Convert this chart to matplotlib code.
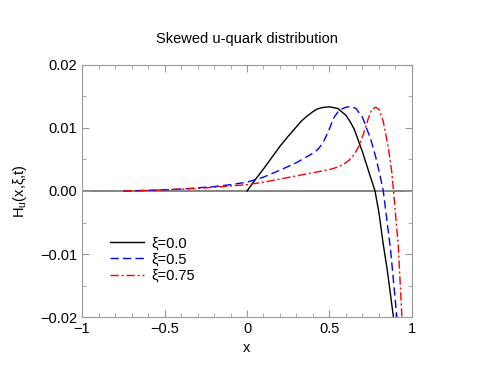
import matplotlib
matplotlib.use("Agg")
import matplotlib.pyplot as plt
from matplotlib.ticker import MultipleLocator

plt.rcParams['font.family'] = ['Liberation Sans', 'DejaVu Sans']

# xi = 0.0
x_a = [0.00, 0.05, 0.10, 0.15, 0.20, 0.25, 0.30, 0.33, 0.36, 0.40, 0.425, 0.45,
       0.475, 0.50, 0.55, 0.60, 0.625, 0.65, 0.70, 0.745, 0.776, 0.80, 0.826,
       0.85, 0.89]
h_a = [0.0, 0.0018, 0.0035, 0.0053, 0.0071, 0.0087, 0.0102, 0.0111, 0.0118,
       0.0126, 0.0130, 0.0132, 0.0133, 0.01335, 0.0131, 0.0120, 0.0110, 0.0098,
       0.0062, 0.0025, 0.0, -0.0035, -0.0085, -0.0125, -0.0205]

# xi = 0.5
x_b = [-0.75, -0.70, -0.60, -0.50, -0.40, -0.30, -0.20, -0.10, 0.00, 0.10, 0.20,
       0.30, 0.36, 0.40, 0.43, 0.46, 0.483, 0.50, 0.523, 0.55, 0.564, 0.60, 0.63,
       0.66, 0.70, 0.75, 0.78, 0.806, 0.826, 0.87, 0.91]
h_b = [0.0, 0.00003, 0.0001, 0.0002, 0.0003, 0.0005, 0.0007, 0.001, 0.0014, 0.0022,
       0.0033, 0.0045, 0.0054, 0.0060, 0.0066, 0.0076, 0.0089, 0.0099, 0.0115,
       0.0125, 0.0129, 0.0133, 0.0134, 0.0131, 0.0117, 0.0082, 0.0054, 0.0025,
       0.0, -0.0093, -0.0205]

# xi = 0.75
x_c = [-0.75, -0.60, -0.50, -0.40, -0.30, -0.20, -0.10, 0.00, 0.10, 0.20, 0.30,
       0.40, 0.50, 0.55, 0.584, 0.62, 0.65, 0.68, 0.705, 0.735, 0.756, 0.78,
       0.802, 0.826, 0.857, 0.877, 0.888, 0.917, 0.94]
h_c = [0.0, 0.0001, 0.0002, 0.0003, 0.0004, 0.0006, 0.0008, 0.0010, 0.0014, 0.0019,
       0.0024, 0.0029, 0.0034, 0.0038, 0.0042, 0.0049, 0.0058, 0.0072, 0.0090,
       0.0115, 0.0129, 0.0133, 0.0129, 0.0110, 0.0068, 0.0031, 0.0, -0.0088,
       -0.0205]

fig = plt.figure(figsize=(4.94, 3.82), dpi=100)
ax = fig.add_axes([0.166, 0.170, 0.668, 0.660])

ax.axhline(0, color="#707070", lw=1.2, zorder=1)
ax.plot(x_a, h_a, color="black", lw=1.0, label="ξ=0.0")
ax.plot(x_b, h_b, color="blue", lw=1.0, ls=(0, (6, 3)), label="ξ=0.5")
ax.plot(x_c, h_c, color="red", lw=1.0, ls=(0, (6, 2, 1.5, 2)), label="ξ=0.75")

ax.set_xlim(-1, 1)
ax.set_ylim(-0.02, 0.02)
ax.xaxis.set_minor_locator(MultipleLocator(0.1))
ax.yaxis.set_minor_locator(MultipleLocator(0.005))
ax.set_xticks([-1, -0.5, 0, 0.5, 1])
ax.set_xticklabels(["\u22121", "\u22120.5", "0", "0.5", "1"])
ax.set_yticks([-0.02, -0.01, 0.0, 0.01, 0.02])
ax.set_yticklabels(["\u22120.02", "\u22120.01", "0.00", "0.01", "0.02"])
ax.tick_params(which="both", direction="in", top=True, right=True,
               color="#999999", labelsize=10.5)
ax.tick_params(which="major", length=5)
ax.tick_params(which="minor", length=3)
for s in ax.spines.values():
    s.set_color("#999999")

ax.set_xlabel("x", fontsize=10.5, labelpad=4)
ax.set_ylabel(r"H$_\mathregular{u}$(x,ξ,t)", fontsize=10.5, labelpad=8)
ax.set_title("Skewed u-quark distribution", fontsize=10.5, pad=16)

ax.legend(loc="upper left", bbox_to_anchor=(0.085, 0.32), frameon=False,
          fontsize=10.5, handlelength=2.3, handletextpad=0.5, labelspacing=0.15,
          borderpad=0, borderaxespad=0)

fig.savefig("out.png", dpi=100)
